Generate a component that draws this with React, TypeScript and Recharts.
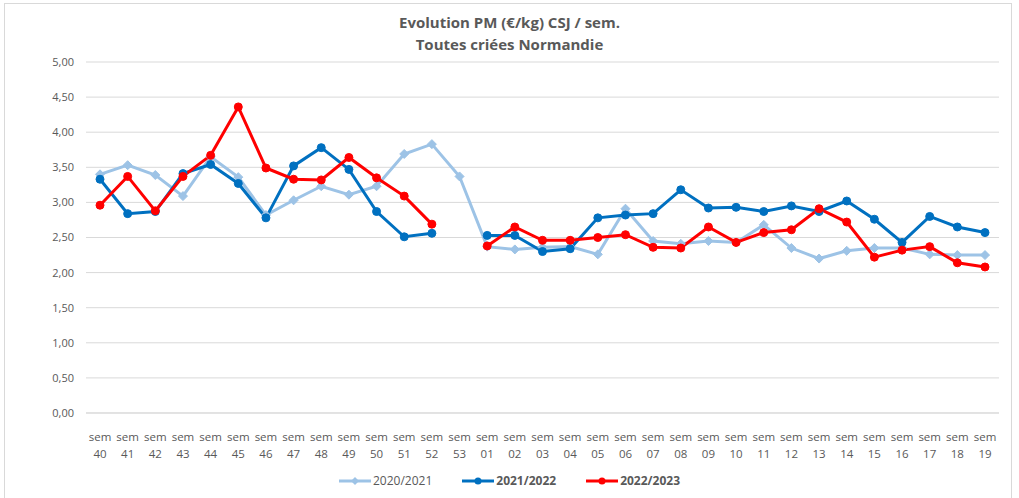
import { LineChart, Line, XAxis, YAxis, CartesianGrid } from "recharts";

const weeks = [
  "40", "41", "42", "43", "44", "45", "46", "47", "48", "49", "50", "51", "52", "53",
  "01", "02", "03", "04", "05", "06", "07", "08", "09", "10",
  "11", "12", "13", "14", "15", "16", "17", "18", "19",
];

const s2020 = [
  3.40, 3.53, 3.39, 3.09, 3.65, 3.36, 2.82, 3.03, 3.23, 3.11, 3.23, 3.69, 3.83, 3.37,
  2.37, 2.33, 2.36, 2.37, 2.26, 2.91, 2.45, 2.41, 2.45, 2.43,
  2.68, 2.35, 2.20, 2.31, 2.35, 2.35, 2.26, 2.25, 2.25,
];

const s2021 = [
  3.33, 2.84, 2.87, 3.41, 3.54, 3.27, 2.78, 3.52, 3.78, 3.47, 2.87, 2.51, 2.56, null,
  2.53, 2.53, 2.30, 2.34, 2.78, 2.82, 2.84, 3.18, 2.92, 2.93,
  2.87, 2.95, 2.87, 3.02, 2.76, 2.43, 2.80, 2.65, 2.57,
];

const s2022 = [
  2.96, 3.37, 2.88, 3.37, 3.67, 4.36, 3.49, 3.33, 3.32, 3.64, 3.35, 3.09, 2.69, null,
  2.38, 2.65, 2.46, 2.46, 2.50, 2.54, 2.36, 2.35, 2.65, 2.43,
  2.57, 2.61, 2.91, 2.72, 2.22, 2.32, 2.37, 2.14, 2.08,
];

const yTicks = [0, 0.5, 1, 1.5, 2, 2.5, 3, 3.5, 4, 4.5, 5];

const data = weeks.map((w, i) => ({
  week: w,
  a: s2020[i],
  b: s2021[i],
  c: s2022[i],
}));

const LIGHT = "#9DC3E6";
const DARK = "#0070C0";
const RED = "#FF0000";
const FONT = "'Open Sans', 'Liberation Sans', sans-serif";

function Diamond(props: any) {
  const { cx, cy } = props;
  if (cx == null || cy == null) return null;
  const r = 4.5;
  return (
    <polygon
      points={`${cx},${cy - r} ${cx + r},${cy} ${cx},${cy + r} ${cx - r},${cy}`}
      fill={LIGHT}
      stroke={LIGHT}
    />
  );
}

function WeekTick(props: any) {
  const { x, y, payload } = props;
  return (
    <g transform={`translate(${x},${y})`}>
      <text x={0} y={20} textAnchor="middle" fill="#595959" fontSize={11.5} fontFamily={FONT}>
        sem
      </text>
      <text x={0} y={37} textAnchor="middle" fill="#595959" fontSize={11.5} fontFamily={FONT}>
        {payload.value}
      </text>
    </g>
  );
}

function LegendBox() {
  const items = [
    { label: "2020/2021", color: LIGHT, bold: false, diamond: true },
    { label: "2021/2022", color: DARK, bold: true, diamond: false },
    { label: "2022/2023", color: RED, bold: true, diamond: false },
  ];
  return (
    <div
      style={{
        position: "absolute",
        top: 472,
        left: 0,
        width: 1019,
        display: "flex",
        justifyContent: "center",
        gap: 30,
        fontFamily: FONT,
        fontSize: 12,
        lineHeight: "18px",
      }}
    >
      {items.map((it) => (
        <div key={it.label} style={{ display: "flex", alignItems: "center" }}>
          <svg width={32} height={10}>
            <line x1={0} y1={5} x2={32} y2={5} stroke={it.color} strokeWidth={3} />
            {it.diamond ? (
              <polygon points="16,1 20,5 16,9 12,5" fill={it.color} />
            ) : (
              <circle cx={16} cy={5} r={3.5} fill={it.color} />
            )}
          </svg>
          <span style={{ color: "#595959", fontWeight: it.bold ? 700 : 400, marginLeft: 2 }}>
            {it.label}
          </span>
        </div>
      ))}
    </div>
  );
}

export default function App() {
  return (
    <div style={{ position: "relative", width: 1019, height: 498, background: "#fff", overflow: "hidden" }}>
      <style>{`body{margin:0}`}</style>
      <div
        style={{
          position: "absolute",
          left: 4,
          top: 3,
          width: 1008,
          height: 500,
          border: "1px solid #d9d9d9",
          boxSizing: "border-box",
        }}
      />
      <div
        style={{
          position: "absolute",
          top: 11,
          left: 0,
          width: 1019,
          textAlign: "center",
          fontFamily: FONT,
          fontWeight: 700,
          fontSize: 15,
          lineHeight: "22px",
          color: "#595959",
        }}
      >
        Evolution PM (€/kg) CSJ / sem.
        <br />
        Toutes criées Normandie
      </div>
      <LineChart
        width={1019}
        height={498}
        data={data}
        margin={{ top: 62, right: 20, bottom: 45, left: 10 }}
        style={{ position: "absolute", left: 0, top: 0 }}
      >
        <CartesianGrid horizontal vertical={false} stroke="#d9d9d9" />
        <XAxis
          dataKey="week"
          interval={0}
          tickLine={false}
          axisLine={{ stroke: "#d9d9d9" }}
          tick={<WeekTick />}
          height={40}
          padding={{ left: 14, right: 14 }}
        />
        <YAxis
          width={76}
          domain={[0, 5]}
          ticks={yTicks}
          tickLine={false}
          axisLine={false}
          tickFormatter={(v: number) => v.toFixed(2).replace(".", ",")}
          tick={{ fill: "#595959", fontSize: 11, fontFamily: FONT }}
          tickMargin={6}
        />
        <Line
          dataKey="a"
          stroke={LIGHT}
          strokeWidth={3}
          dot={<Diamond />}
          isAnimationActive={false}
        />
        <Line
          dataKey="b"
          stroke={DARK}
          strokeWidth={3}
          dot={{ r: 4, fill: DARK, stroke: DARK, strokeWidth: 1 }}
          isAnimationActive={false}
        />
        <Line
          dataKey="c"
          stroke={RED}
          strokeWidth={3}
          dot={{ r: 4, fill: RED, stroke: RED, strokeWidth: 1 }}
          isAnimationActive={false}
        />
      </LineChart>
      <LegendBox />
    </div>
  );
}
